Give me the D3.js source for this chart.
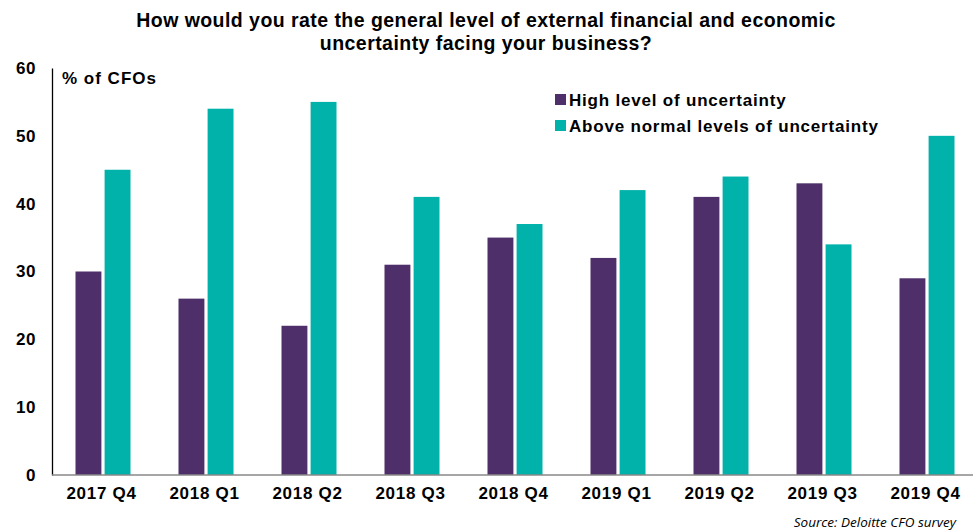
<!DOCTYPE html>
<html>
<head>
<meta charset="utf-8">
<script src="https://cdn.jsdelivr.net/npm/d3@7"></script>
<style>
  body { margin: 0; background: #fff; }
  svg { font-family: "Liberation Sans", Arial, sans-serif; }
</style>
</head>
<body>
<svg id="chart"></svg>
<script>
// Chart data
const quarters = ["2017 Q4", "2018 Q1", "2018 Q2", "2018 Q3", "2018 Q4", "2019 Q1", "2019 Q2", "2019 Q3", "2019 Q4"];
const highLevel = [30, 26, 22, 31, 35, 32, 41, 43, 29];
const aboveNormal = [45, 54, 55, 41, 37, 42, 44, 34, 50];
const seriesNames = ["High level of uncertainty", "Above normal levels of uncertainty"];
const yTicks = [0, 10, 20, 30, 40, 50, 60];

const width = 973, height = 531;
const margin = { top: 68, bottom: 56, left: 52, right: 0 };

const svg = d3.select("#chart")
  .attr("width", width)
  .attr("height", height);

const colors = ["#4e2f69", "#00b2aa"];

const x0 = d3.scaleBand()
  .domain(quarters)
  .range([50, 977]);

const x1 = d3.scaleBand()
  .domain(seriesNames)
  .range([x0.bandwidth() / 2 - 26, x0.bandwidth() / 2 + 29])
  .paddingInner(0.11);

const y = d3.scaleLinear()
  .domain([0, 60])
  .range([height - margin.bottom, margin.top]);

// Title
svg.append("text")
  .attr("x", 486)
  .attr("text-anchor", "middle")
  .style("font-weight", "bold")
  .style("font-size", "19.5px")
  .style("letter-spacing", "0.45px")
  .selectAll("tspan")
  .data(["How would  you rate the general level of external financial  and economic", "uncertainty facing your business?"])
  .enter()
  .append("tspan")
  .attr("x", 486)
  .attr("y", (d, i) => 27 + i * 23)
  .text(d => d);

// Bars
const rows = quarters.map((q, i) => ({ q, vals: [highLevel[i], aboveNormal[i]] }));

const groups = svg.selectAll(".grp")
  .data(rows)
  .enter()
  .append("g")
  .attr("transform", d => `translate(${x0(d.q)},0)`);

groups.selectAll("rect")
  .data(d => d.vals.map((v, k) => ({ name: seriesNames[k], v, k })))
  .enter()
  .append("rect")
  .attr("x", d => x1(d.name))
  .attr("y", d => y(d.v))
  .attr("width", x1.bandwidth())
  .attr("height", d => y(0) - y(d.v))
  .attr("fill", d => colors[d.k]);

// Y axis
const yAxis = svg.append("g")
  .attr("transform", `translate(${margin.left},0)`)
  .call(d3.axisLeft(y).tickValues(yTicks).tickSize(0).tickPadding(16));
yAxis.select(".domain").attr("stroke", "#000").attr("stroke-width", 1.3);
yAxis.selectAll("text")
  .style("font-size", "17px")
  .style("font-weight", "bold")
  .style("letter-spacing", "0.6px")
  .attr("fill", "#000");

// X axis
const xAxis = svg.append("g")
  .attr("transform", `translate(0,${y(0)})`)
  .call(d3.axisBottom(x0).tickSize(0).tickPadding(12));
xAxis.select(".domain").attr("d", `M${margin.left},0H${width}`).attr("stroke", "#888").attr("stroke-width", 1.5);
xAxis.selectAll("text")
  .style("font-size", "17px")
  .style("font-weight", "bold")
  .style("letter-spacing", "0.7px")
  .attr("fill", "#000");

// Axis unit label
svg.append("text")
  .text("% of CFOs")
  .attr("x", 62)
  .attr("y", 84)
  .style("font-size", "17px")
  .style("font-weight", "bold")
  .style("letter-spacing", "1px");

// Legend
const legend = svg.append("g")
  .attr("transform", "translate(555,101)");

seriesNames.forEach((name, i) => {
  legend.append("rect")
    .attr("x", 0)
    .attr("y", i * 26 - 7)
    .attr("width", 11)
    .attr("height", 11)
    .attr("fill", colors[i]);
  legend.append("text")
    .attr("x", 14)
    .attr("y", i * 26 + 5)
    .text(name)
    .style("font-size", "17px")
    .style("font-weight", "bold")
    .style("letter-spacing", "0.8px");
});

// Source note
svg.append("text")
  .text("Source: Deloitte CFO survey")
  .attr("x", 956)
  .attr("y", 527)
  .attr("text-anchor", "end")
  .style("font-family", "'Open Sans', sans-serif")
  .style("font-style", "italic")
  .style("font-size", "13.5px");
</script>
</body>
</html>
